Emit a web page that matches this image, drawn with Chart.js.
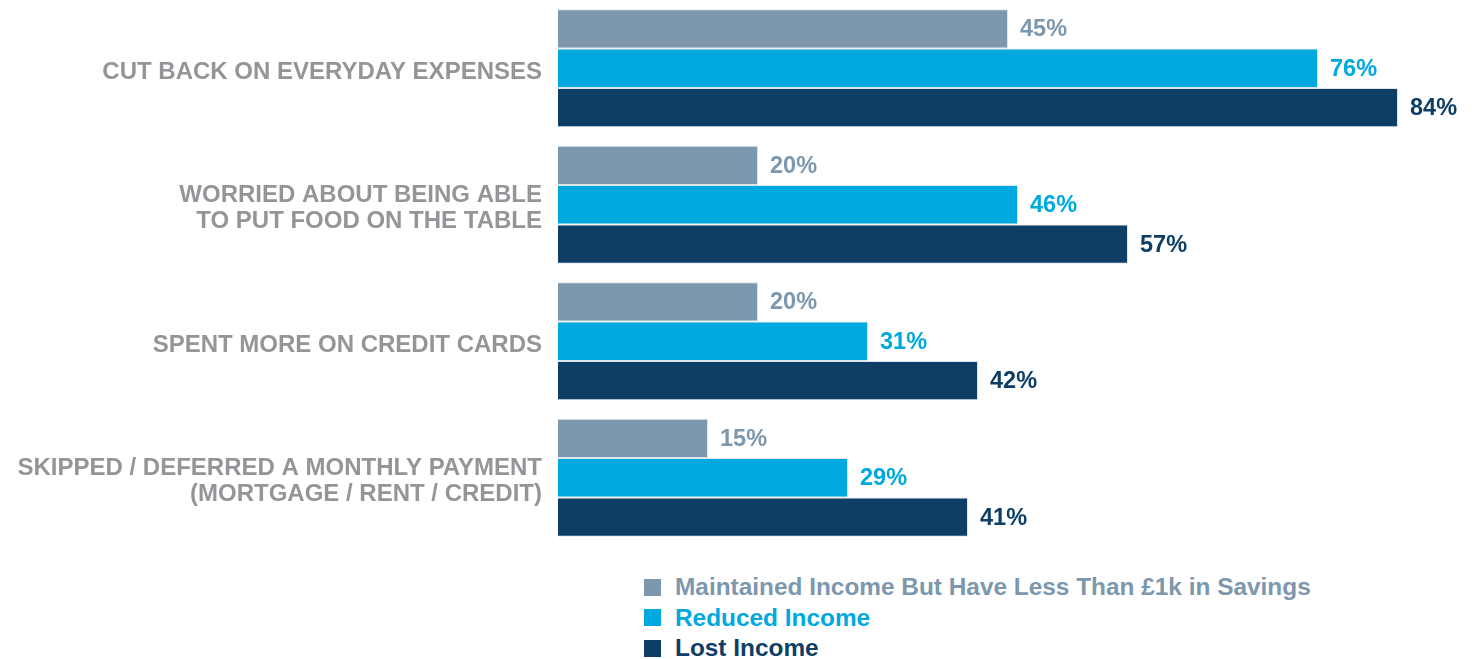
<!DOCTYPE html>
<html>
<head>
<meta charset="utf-8">
<script src="https://cdn.jsdelivr.net/npm/chart.js@4.4.1/dist/chart.umd.min.js"></script>
<style>
  html, body { margin: 0; padding: 0; background: #fff; }
  #wrap { position: relative; width: 1478px; height: 659px; }
  #chart-box { position: absolute; left: 0; top: 0; width: 1478px; height: 546px; }
  #legend { position: absolute; left: 644px; top: 572px; font-family: "Liberation Sans", Arial, sans-serif; font-weight: bold; font-size: 24.4px; }
  #legend .item { display: flex; align-items: center; height: 30.5px; }
  #legend .swatch { width: 17px; height: 17px; margin-right: 14px; }
</style>
</head>
<body>
<div id="wrap">
  <div id="chart-box"><canvas id="myChart"></canvas></div>
  <div id="legend"></div>
</div>
<script>
// categories (multi-line labels as arrays)
const categories = [
  ["CUT BACK ON EVERYDAY EXPENSES"],
  ["WORRIED ABOUT BEING ABLE", "TO PUT FOOD ON THE TABLE"],
  ["SPENT MORE ON CREDIT CARDS"],
  ["SKIPPED / DEFERRED A MONTHLY PAYMENT", "(MORTGAGE / RENT / CREDIT)"]
];
const seriesNames = [
  "Maintained Income But Have Less Than £1k in Savings",
  "Reduced Income",
  "Lost Income"
];
const maintainedIncome = [45, 20, 20, 15];
const reducedIncome = [76, 46, 31, 29];
const lostIncome = [84, 57, 42, 41];
const seriesColors = ["#7d97ad", "#00a8e0", "#0e3e66"];

// writes "nn%" right after the end of each bar
const valueLabels = {
  id: "valueLabels",
  afterDatasetsDraw(chart) {
    const ctx = chart.ctx;
    ctx.save();
    ctx.font = "bold 23.5px 'Liberation Sans', Arial, sans-serif";
    ctx.textBaseline = "middle";
    ctx.textAlign = "left";
    chart.data.datasets.forEach((ds, i) => {
      chart.getDatasetMeta(i).data.forEach((bar, j) => {
        ctx.fillStyle = ds.backgroundColor;
        ctx.fillText(ds.data[j] + "%", bar.x + 12, bar.y + 1);
      });
    });
    ctx.restore();
  }
};

const datasets = [maintainedIncome, reducedIncome, lostIncome].map((vals, i) => ({
  label: seriesNames[i],
  data: vals,
  backgroundColor: seriesColors[i],
  borderColor: "rgba(205,218,230,0.7)",
  borderWidth: 1,
  categoryPercentage: 0.865,
  barPercentage: 1
}));

var ctx = document.getElementById("myChart").getContext("2d");
var chart = new Chart(ctx, {
  type: "bar",
  data: { labels: categories, datasets: datasets },
  options: {
    indexAxis: "y",
    responsive: true,
    maintainAspectRatio: false,
    animation: false,
    layout: { padding: { left: 0, right: 20, top: 0, bottom: 0 } },
    plugins: { legend: { display: false }, tooltip: { enabled: false } },
    scales: {
      x: { display: false, min: 0, max: 90 },
      y: {
        grid: { display: false },
        border: { display: false },
        afterFit(scale) {
          // fixed label column, no extra room above/below the bars
          scale.width = 558;
          scale.paddingTop = 0;
          scale.paddingBottom = 0;
        },
        ticks: {
          color: "#939598",
          padding: 8,
          labelOffset: 4,
          font: { family: "'Liberation Sans', Arial, sans-serif", weight: "bold", size: 24, lineHeight: 1.08 }
        }
      }
    }
  },
  plugins: [valueLabels]
});

// legend stacked vertically under the plot
const legend = document.getElementById("legend");
seriesNames.forEach((name, i) => {
  const row = document.createElement("div");
  row.className = "item";
  row.innerHTML = `<span class="swatch" style="background:${seriesColors[i]}"></span>` +
    `<span style="color:${seriesColors[i]}">${name}</span>`;
  legend.appendChild(row);
});
</script>
</body>
</html>
